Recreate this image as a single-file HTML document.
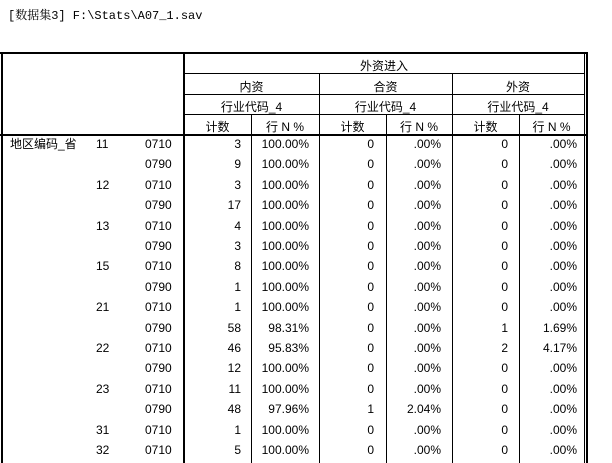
<!DOCTYPE html>
<html><head><meta charset="utf-8"><style>
html,body{margin:0;padding:0;background:#fff;}
body{width:612px;height:463px;position:relative;overflow:hidden;font-family:"Liberation Sans","Noto Sans CJK SC",sans-serif;font-size:12px;color:#000;}
.t{position:absolute;white-space:nowrap;height:16px;line-height:16px;}
.l{position:absolute;background:#000;}
.title{position:absolute;left:8px;top:8px;font-family:"Liberation Mono","Noto Serif CJK SC",monospace;font-size:12px;line-height:16px;white-space:nowrap;}
.c{text-align:center;}
.r{position:absolute;left:0;width:612px;height:16px;line-height:16px;}
.r span{position:absolute;top:0;white-space:nowrap;}
.a{left:96px}
.b{left:145px}
.c1{right:371px;text-align:right}
.c2{right:303px;text-align:right}
.c3{right:238px;text-align:right}
.c4{right:171px;text-align:right}
.c5{right:104px;text-align:right}
.c6{right:35px;text-align:right}
</style></head><body>
<div class="title">[数据集3] F:\Stats\A07_1.sav</div>

<div class="l" style="left:0;top:52px;width:588px;height:2px"></div>
<div class="l" style="left:1px;top:52px;width:2px;height:411px"></div>
<div class="l" style="left:183px;top:52px;width:2px;height:411px"></div>
<div class="l" style="left:184px;top:73px;width:400px;height:1px"></div>
<div class="l" style="left:184px;top:94px;width:400px;height:1px"></div>
<div class="l" style="left:184px;top:114px;width:400px;height:1px"></div>
<div class="l" style="left:0;top:134px;width:588px;height:2px"></div>
<div class="l" style="left:319px;top:74px;width:1px;height:389px"></div>
<div class="l" style="left:452px;top:74px;width:1px;height:389px"></div>
<div class="l" style="left:251px;top:115px;width:1px;height:348px"></div>
<div class="l" style="left:386px;top:115px;width:1px;height:348px"></div>
<div class="l" style="left:519px;top:115px;width:1px;height:348px"></div>
<div class="l" style="left:584px;top:52px;width:1px;height:411px"></div>
<div class="l" style="left:586px;top:52px;width:2px;height:411px"></div>

<div class="t c" style="left:184px;width:400px;top:58px">外资进入</div>
<div class="t c" style="left:184px;width:135px;top:79px">内资</div>
<div class="t c" style="left:319px;width:133px;top:79px">合资</div>
<div class="t c" style="left:452px;width:132px;top:79px">外资</div>
<div class="t c" style="left:184px;width:135px;top:99px">行业代码_4</div>
<div class="t c" style="left:319px;width:133px;top:99px">行业代码_4</div>
<div class="t c" style="left:452px;width:132px;top:99px">行业代码_4</div>
<div class="t c" style="left:184px;width:67px;top:119px">计数</div>
<div class="t c" style="left:251px;width:68px;top:119px">行 N %</div>
<div class="t c" style="left:319px;width:67px;top:119px">计数</div>
<div class="t c" style="left:386px;width:66px;top:119px">行 N %</div>
<div class="t c" style="left:452px;width:67px;top:119px">计数</div>
<div class="t c" style="left:519px;width:65px;top:119px">行 N %</div>

<div class="t" style="left:10px;top:136px">地区编码_省</div>

<div class="r" style="top:136px"><span class="a">11</span><span class="b">0710</span><span class="c1">3</span><span class="c2">100.00%</span><span class="c3">0</span><span class="c4">.00%</span><span class="c5">0</span><span class="c6">.00%</span></div>
<div class="r" style="top:156px"><span class="b">0790</span><span class="c1">9</span><span class="c2">100.00%</span><span class="c3">0</span><span class="c4">.00%</span><span class="c5">0</span><span class="c6">.00%</span></div>
<div class="r" style="top:177px"><span class="a">12</span><span class="b">0710</span><span class="c1">3</span><span class="c2">100.00%</span><span class="c3">0</span><span class="c4">.00%</span><span class="c5">0</span><span class="c6">.00%</span></div>
<div class="r" style="top:197px"><span class="b">0790</span><span class="c1">17</span><span class="c2">100.00%</span><span class="c3">0</span><span class="c4">.00%</span><span class="c5">0</span><span class="c6">.00%</span></div>
<div class="r" style="top:218px"><span class="a">13</span><span class="b">0710</span><span class="c1">4</span><span class="c2">100.00%</span><span class="c3">0</span><span class="c4">.00%</span><span class="c5">0</span><span class="c6">.00%</span></div>
<div class="r" style="top:238px"><span class="b">0790</span><span class="c1">3</span><span class="c2">100.00%</span><span class="c3">0</span><span class="c4">.00%</span><span class="c5">0</span><span class="c6">.00%</span></div>
<div class="r" style="top:258px"><span class="a">15</span><span class="b">0710</span><span class="c1">8</span><span class="c2">100.00%</span><span class="c3">0</span><span class="c4">.00%</span><span class="c5">0</span><span class="c6">.00%</span></div>
<div class="r" style="top:279px"><span class="b">0790</span><span class="c1">1</span><span class="c2">100.00%</span><span class="c3">0</span><span class="c4">.00%</span><span class="c5">0</span><span class="c6">.00%</span></div>
<div class="r" style="top:299px"><span class="a">21</span><span class="b">0710</span><span class="c1">1</span><span class="c2">100.00%</span><span class="c3">0</span><span class="c4">.00%</span><span class="c5">0</span><span class="c6">.00%</span></div>
<div class="r" style="top:320px"><span class="b">0790</span><span class="c1">58</span><span class="c2">98.31%</span><span class="c3">0</span><span class="c4">.00%</span><span class="c5">1</span><span class="c6">1.69%</span></div>
<div class="r" style="top:340px"><span class="a">22</span><span class="b">0710</span><span class="c1">46</span><span class="c2">95.83%</span><span class="c3">0</span><span class="c4">.00%</span><span class="c5">2</span><span class="c6">4.17%</span></div>
<div class="r" style="top:360px"><span class="b">0790</span><span class="c1">12</span><span class="c2">100.00%</span><span class="c3">0</span><span class="c4">.00%</span><span class="c5">0</span><span class="c6">.00%</span></div>
<div class="r" style="top:381px"><span class="a">23</span><span class="b">0710</span><span class="c1">11</span><span class="c2">100.00%</span><span class="c3">0</span><span class="c4">.00%</span><span class="c5">0</span><span class="c6">.00%</span></div>
<div class="r" style="top:401px"><span class="b">0790</span><span class="c1">48</span><span class="c2">97.96%</span><span class="c3">1</span><span class="c4">2.04%</span><span class="c5">0</span><span class="c6">.00%</span></div>
<div class="r" style="top:422px"><span class="a">31</span><span class="b">0710</span><span class="c1">1</span><span class="c2">100.00%</span><span class="c3">0</span><span class="c4">.00%</span><span class="c5">0</span><span class="c6">.00%</span></div>
<div class="r" style="top:442px"><span class="a">32</span><span class="b">0710</span><span class="c1">5</span><span class="c2">100.00%</span><span class="c3">0</span><span class="c4">.00%</span><span class="c5">0</span><span class="c6">.00%</span></div>
</body></html>
